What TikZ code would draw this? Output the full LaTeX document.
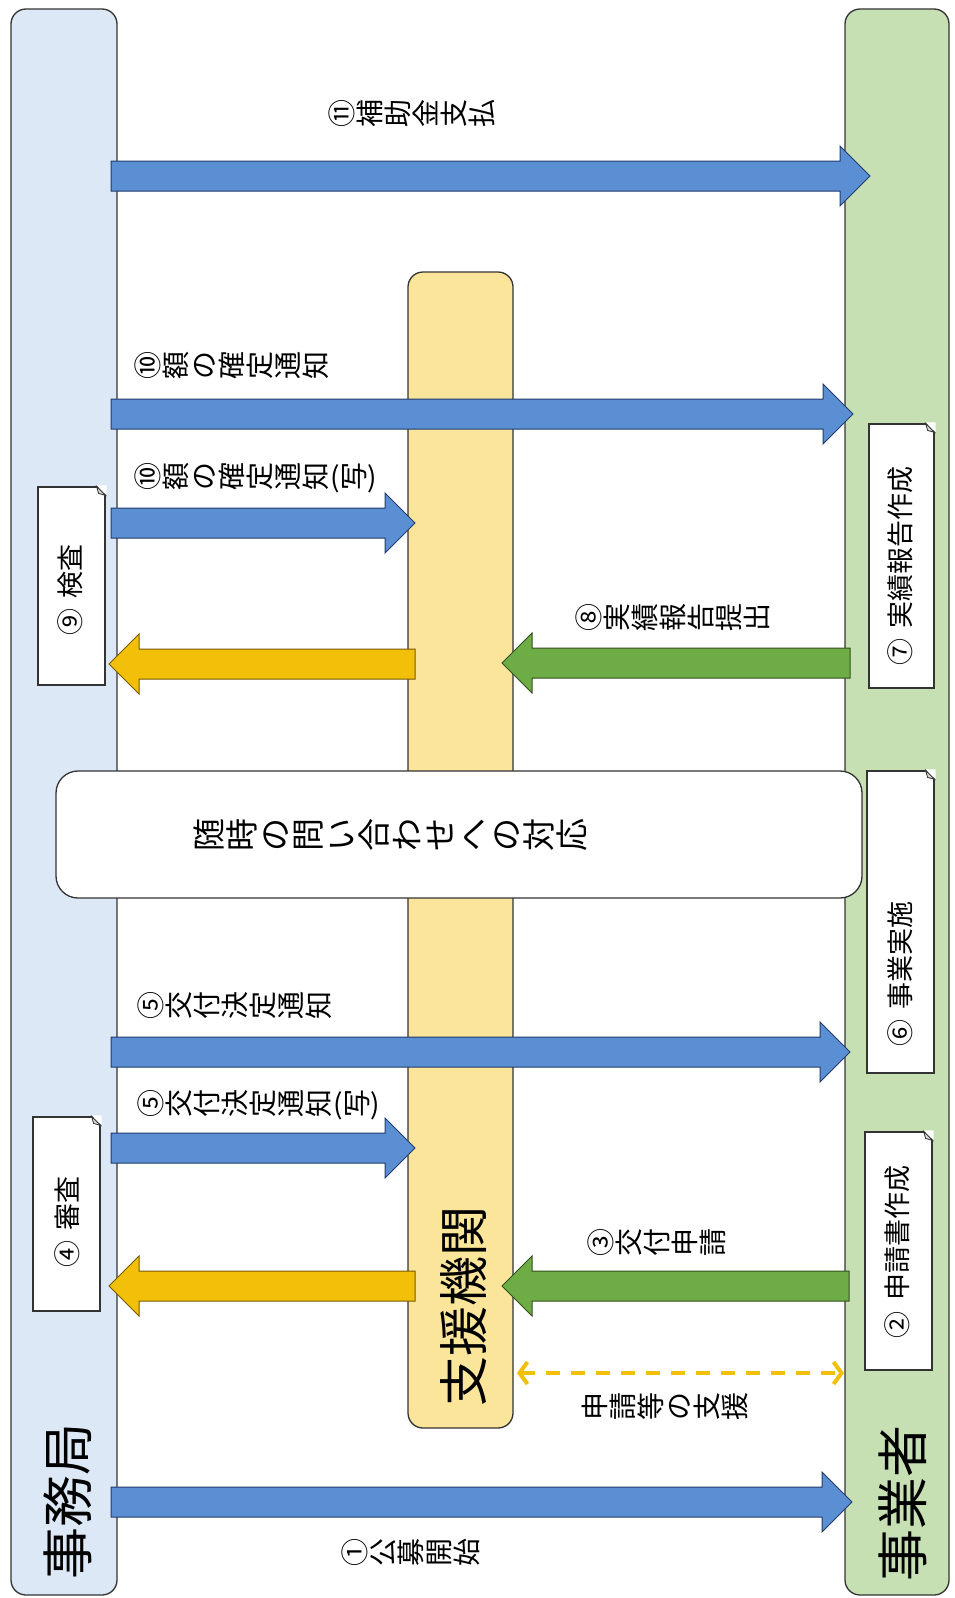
\documentclass[tikz,border=0pt]{standalone}
\usepackage{graphicx}
\usepackage{fontspec}
\setmainfont{Noto Sans CJK JP}
\usetikzlibrary{calc,arrows.meta}

\definecolor{jimuBlue}{RGB}{220,232,246}
\definecolor{jigyoGreen}{RGB}{198,224,180}
\definecolor{shienYellow}{RGB}{251,229,154}
\definecolor{arrowBlue}{RGB}{91,143,212}
\definecolor{arrowBlueLine}{RGB}{35,60,105}
\definecolor{arrowGold}{RGB}{242,192,8}
\definecolor{arrowGoldLine}{RGB}{120,90,0}
\definecolor{arrowGreen}{RGB}{110,172,70}
\definecolor{arrowGreenLine}{RGB}{50,80,30}

%% glyphs turned a quarter to the left, one by one
\ExplSyntaxOn
\NewDocumentCommand\tate{m}{\tl_map_inline:nn{#1}{\rotatebox[origin=c]{90}{\makebox[1em]{\rule[-0.12em]{0pt}{1em}##1}}}}
\ExplSyntaxOff

%% block arrow from tail #1 to tip #2
\newcommand\blockArrow[4]{%
  \path ($(#2)!30pt!(#1)$) coordinate (#2-base);
  \draw[line width=1pt,line join=miter,fill=#3,draw=#4]
    ($(#1)+(0pt,15pt)$) -- ($(#2-base)+(0pt,15pt)$) -- ($(#2-base)+(0pt,30pt)$) -- (#2)
    -- ($(#2-base)+(0pt,-30pt)$) -- ($(#2-base)+(0pt,-15pt)$) -- ($(#1)+(0pt,-15pt)$) -- cycle;}

\begin{document}
\begin{tikzpicture}
[x=1pt,y=-1pt,%
  colBox/.style={draw=black!80,line width=1.3pt,rounded corners=15pt,inner sep=0pt},%
  noteBox/.style={draw=black!80,fill=white,line width=1.2pt,inner sep=0pt,minimum width=67pt},%
  tateLabel/.style={anchor=west,inner sep=0pt,font=\fontsize{28}{28}\selectfont},%
  boxLabel/.style={rotate=90,inner sep=0pt,font=\fontsize{27}{27}\selectfont},%
  bigLabel/.style={rotate=90,inner sep=0pt,font=\fontsize{52}{52}\selectfont},%
  supportLine/.style={arrowGold,line width=4pt,dash pattern=on 14pt off 11pt,
    {Straight Barb[length=8pt,width=22pt]}-{Straight Barb[length=8pt,width=22pt]}}]
\fill[white] (0,0) rectangle (954,1598);
\useasboundingbox (0,0) rectangle (954,1598);

%% columns
\node[colBox,fill=jimuBlue,minimum width=106pt,minimum height=1586pt] (jimu) at (64,802) {};
\node[colBox,fill=jigyoGreen,minimum width=104pt,minimum height=1586pt] (jigyo) at (897,802) {};
\node[colBox,fill=shienYellow,minimum width=105pt,minimum height=1156pt] (shien) at (460.5,850) {};

\node[bigLabel] (jimuText) at (68,1501) {事務局};
\node[bigLabel] (jigyoText) at (903,1503) {事業者};
\node[bigLabel,font=\fontsize{50}{50}\selectfont] (shienText) at (464,1306) {支援機関};

%% block arrows
\foreach \name/\xs/\xe/\y/\fillcolor/\linecolor in {
  pay/111/870/176/arrowBlue/arrowBlueLine,
  kakutei/111/853/414/arrowBlue/arrowBlueLine,
  kakuteiCopy/111/415/523/arrowBlue/arrowBlueLine,
  kettei/111/850/1052/arrowBlue/arrowBlueLine,
  ketteiCopy/111/415/1148/arrowBlue/arrowBlueLine,
  koubo/111/852/1502/arrowBlue/arrowBlueLine,
  toKensa/415/109/664/arrowGold/arrowGoldLine,
  toShinsa/415/109/1286/arrowGold/arrowGoldLine,
  houkoku/850/502/663/arrowGreen/arrowGreenLine,
  shinsei/849/502/1286/arrowGreen/arrowGreenLine}
{
  \coordinate (\name-tail) at (\xs,\y);
  \coordinate (\name-tip) at (\xe,\y);
  \blockArrow{\name-tail}{\name-tip}{\fillcolor}{\linecolor}
}

%% support
\coordinate (supportL) at (517,1373);
\coordinate (supportR) at (844,1373);
\draw[supportLine] (supportL) -- (supportR);

%% inquiries
\node[draw=black!80,fill=white,line width=1.3pt,rounded corners=22pt,
  minimum width=806pt,minimum height=127pt] (toiawase) at (459,834.5) {};
\node[tateLabel,font=\fontsize{33}{33}\selectfont] (toiawaseText) at (192,835)
  {\tate{随時の問い合わせへの対応}};

%% note boxes
\node[noteBox,minimum height=194pt] (shinsa) at (66.5,1214) {};
\node[noteBox,minimum height=198pt] (kensa) at (71.5,586) {};
\node[noteBox,minimum width=65pt,minimum height=264pt] (jisseki) at (901.5,556) {};
\node[noteBox,minimum height=302pt] (jisshi) at (900.5,922) {};
\node[noteBox,minimum height=238pt] (sakusei) at (898.5,1251) {};
\foreach \b in {shinsa,kensa,jisseki,jisshi,sakusei}
{
  \fill[white] ([xshift=-9pt,yshift=1pt]\b.north east) -- ([xshift=1pt,yshift=1pt]\b.north east)
    -- ([xshift=1pt,yshift=-9pt]\b.north east) -- cycle;
  \filldraw[fill=black!15,draw=black!80,line width=0.8pt] ([xshift=-9pt]\b.north east)
    -- ([yshift=-9pt]\b.north east) -- ([xshift=-7pt,yshift=-7pt]\b.north east) -- cycle;
}
\node[boxLabel] (shinsaText) at (67,1222) {④\hspace{0.4em}審査};
\node[boxLabel] (kensaText) at (70,590) {⑨\hspace{0.4em}検査};
\node[boxLabel] (jissekiText) at (900,566) {⑦\hspace{0.4em}実績報告作成};
\node[boxLabel] (jisshiText) at (900,974) {⑥\hspace{0.4em}事業実施};
\node[boxLabel] (sakuseiText) at (897,1252) {②\hspace{0.4em}申請書作成};

%% arrow labels
\node[tateLabel] (payText) at (328,113) {\tate{⑪補助金支払}};
\node[tateLabel] (kakuteiText) at (134,365) {\tate{⑩額の確定通知}};
\node[tateLabel] (kakuteiCopyText) at (134,478) {\tate{⑩額の確定通知}(\tate{写})};
\node[tateLabel] (houkokuText) at (575,617) {\tate{⑧実績報告提出}};
\node[tateLabel] (ketteiText) at (137,1005) {\tate{⑤交付決定通知}};
\node[tateLabel] (ketteiCopyText) at (137,1105) {\tate{⑤交付決定通知}(\tate{写})};
\node[tateLabel] (shinseiText) at (587,1242) {\tate{③交付申請}};
\node[tateLabel] (supportText) at (581,1406) {\tate{申請等の支援}};
\node[tateLabel] (kouboText) at (341,1552) {\tate{①公募開始}};
\end{tikzpicture}
\end{document}
